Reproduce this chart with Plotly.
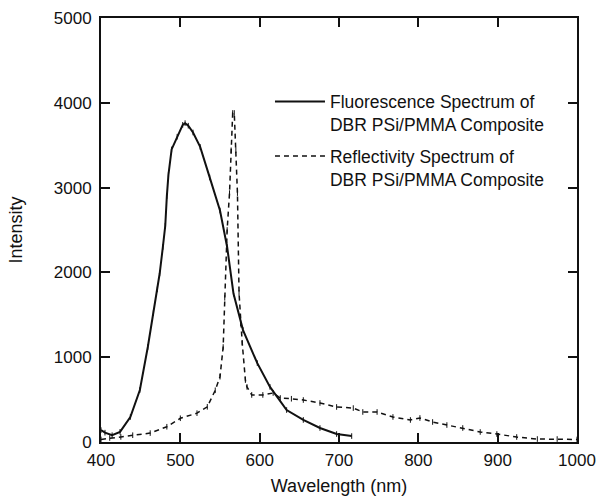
import plotly.graph_objects as go

# Fluorescence spectrum (solid)
fl_wavelength = [400, 405, 414, 424, 437, 449, 459, 466, 471, 474, 478, 481, 483, 485, 489, 496,
                 503, 506, 510, 516, 525, 537, 550, 559, 567, 579, 597, 613, 634, 655, 676, 697, 716]
fl_intensity = [140, 110, 80, 120, 295, 613, 1120, 1520, 1800, 1990, 2300, 2550, 2900, 3150, 3450, 3600,
                3740, 3760, 3730, 3650, 3480, 3120, 2730, 2300, 1750, 1320, 930, 650, 377, 260, 165, 94, 70]

# Reflectivity spectrum (dashed)
rf_wavelength = [400, 411, 425, 440, 462, 483, 500, 521, 534, 544, 550, 554, 556, 559, 562, 564,
                 566, 568, 570, 572, 574, 576, 578, 582, 584, 590, 604, 617, 626, 640, 655, 676,
                 697, 718, 730, 748, 768, 790, 802, 818, 836, 856, 878, 899, 924, 950, 975, 1000]
rf_intensity = [30, 47, 60, 80, 105, 180, 280, 340, 415, 610, 770, 1120, 1700, 2500, 2935, 3440,
                3880, 3880, 3440, 2935, 1757, 1400, 1170, 730, 650, 555, 555, 578, 519, 510, 495, 460,
                413, 400, 354, 354, 295, 260, 283, 236, 200, 165, 118, 94, 59, 35, 35, 30]

x_ticks = [400, 500, 600, 700, 800, 900, 1000]
y_ticks = [0, 1000, 2000, 3000, 4000, 5000]

FONT = "Liberation Sans, Arial, sans-serif"
INK = "#111111"

fig = go.Figure()
fig.add_trace(go.Scatter(
    x=fl_wavelength, y=fl_intensity, mode="lines", legendgroup="fl",
    line=dict(color=INK, width=2),
    name="Fluorescence Spectrum of<br>DBR PSi/PMMA Composite"))
fig.add_trace(go.Scatter(
    x=rf_wavelength, y=rf_intensity, mode="lines", legendgroup="rf",
    line=dict(color=INK, width=1.5, dash="5px,4px"),
    name="Reflectivity Spectrum of<br>DBR PSi/PMMA Composite"))
fig.add_trace(go.Scatter(
    x=fl_wavelength, y=fl_intensity, mode="markers", showlegend=False, hoverinfo="skip",
    legendgroup="fl", marker=dict(symbol="line-ns", size=4, line=dict(color=INK, width=1))))
fig.add_trace(go.Scatter(
    x=rf_wavelength, y=rf_intensity, mode="markers", showlegend=False, hoverinfo="skip",
    legendgroup="rf", marker=dict(symbol="line-ns", size=4, line=dict(color=INK, width=1))))

axis_common = dict(
    showline=True, linecolor=INK, linewidth=2, mirror="ticks",
    ticks="inside", ticklen=9, tickwidth=1.5, tickcolor=INK,
    showgrid=False, zeroline=False, automargin=False,
    tickfont=dict(family=FONT, size=17, color=INK),
)

fig.update_layout(
    width=596, height=497,
    margin=dict(l=101, r=19, t=18, b=55),
    paper_bgcolor="white", plot_bgcolor="white",
    font=dict(family=FONT, color=INK),
    xaxis=dict(range=[400, 1000], tickvals=x_ticks, ticklabelstandoff=2,
               title=dict(text="Wavelength (nm)", font=dict(family=FONT, size=18, color=INK), standoff=10),
               **axis_common),
    yaxis=dict(range=[0, 5000], tickvals=y_ticks, ticklabelstandoff=4,
               title=dict(text="Intensity", font=dict(family=FONT, size=18, color=INK), standoff=26),
               **axis_common),
    legend=dict(x=0.355, y=0.845, xanchor="left", yanchor="top",
                bgcolor="rgba(0,0,0,0)", font=dict(family=FONT, size=17.5, color=INK),
                valign="top", itemwidth=50, tracegroupgap=6),
    showlegend=True,
)

fig.write_html("out.html", config={"displayModeBar": False},
               post_script="document.body.style.margin='0';")
